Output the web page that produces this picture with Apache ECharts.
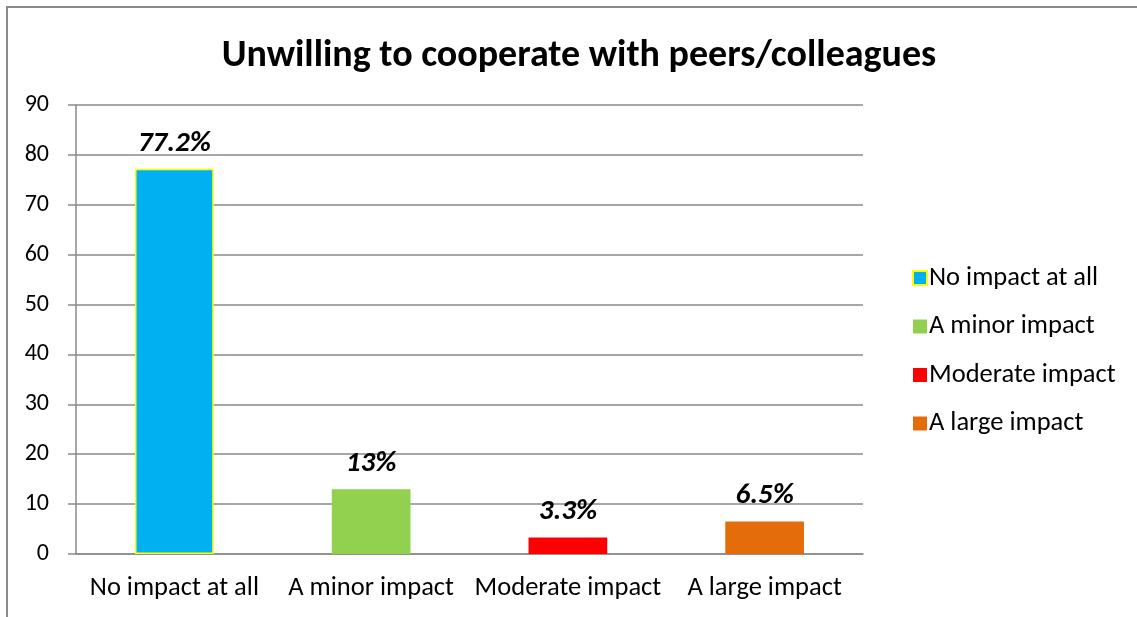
<!DOCTYPE html>
<html><head><meta charset="utf-8">
<script src="https://cdn.jsdelivr.net/npm/echarts@6/dist/echarts.min.js"></script>
<style>html,body{margin:0;padding:0;background:#fff}#c{width:1137px;height:617px}</style>
</head><body><div id="c"></div>
<script>
const title = 'Unwilling to cooperate with peers/colleagues';
const categories = ['No impact at all', 'A minor impact', 'Moderate impact', 'A large impact'];
const values = [77.2, 13, 3.3, 6.5];
const labels = ['77.2%', '13%', '3.3%', '6.5%'];
const colors = ['#00B0F0', '#92D050', '#FF0000', '#E46C0A'];
const yTicks = [0, 10, 20, 30, 40, 50, 60, 70, 80, 90];

const FONT = 'Carlito, Lato, "Open Sans", sans-serif';
const chart = echarts.init(document.getElementById('c'), null, {renderer: 'canvas'});
const series = categories.map((name, i) => ({
  name: name,
  type: 'bar',
  stack: 'all',
  barWidth: '40%',
  data: categories.map((_, j) => j === i ? values[i] : '-'),
  itemStyle: i === 0 ? {color: colors[i], borderColor: '#FFFF00', borderWidth: 1.5} : {color: colors[i]},
  label: {
    show: true, position: 'top', distance: 11,
    formatter: () => labels[i],
    fontFamily: FONT, fontSize: 29, fontWeight: 'bold', fontStyle: 'italic', color: '#000'
  },
  emphasis: {disabled: true}
}));
chart.setOption({
  animation: false,
  backgroundColor: '#fff',
  title: {
    text: title, left: 574, textAlign: 'center', top: 32,
    textStyle: {fontFamily: FONT, fontSize: 38, fontWeight: 'bold', color: '#000'}
  },
  graphic: [{type: 'rect', shape: {x: 7, y: 7, width: 1140, height: 620}, style: {fill: 'none', stroke: '#8a8a8a', lineWidth: 2}, silent: true}],
  legend: {
    orient: 'vertical', left: 907, top: 259, itemWidth: 14, itemHeight: 14, itemGap: 20.5,
    icon: 'rect',
    data: categories,
    textStyle: {fontFamily: FONT, fontSize: 26.5, color: '#000', lineHeight: 28, padding: [0,0,0,-3]}
  },
  grid: {left: 76, right: 274, top: 105, bottom: 63, containLabel: false},
  xAxis: {
    type: 'category', data: categories,
    axisLine: {lineStyle: {color: '#8a8a8a', width: 1.5}},
    axisTick: {show: false},
    axisLabel: {fontFamily: FONT, fontSize: 26.5, color: '#000', margin: 21, interval: 0}
  },
  yAxis: {
    type: 'value', min: yTicks[0], max: yTicks[yTicks.length - 1], interval: 10,
    axisLine: {show: true, lineStyle: {color: '#8a8a8a', width: 1.5}},
    axisTick: {show: true, length: 8, lineStyle: {color: '#8a8a8a', width: 1.5}},
    splitLine: {lineStyle: {color: '#8a8a8a', width: 1.5}},
    axisLabel: {fontFamily: FONT, fontSize: 24, color: '#000', margin: 14, padding: [0, 13, 0, 0]}
  },
  series: series
});
</script></body></html>
